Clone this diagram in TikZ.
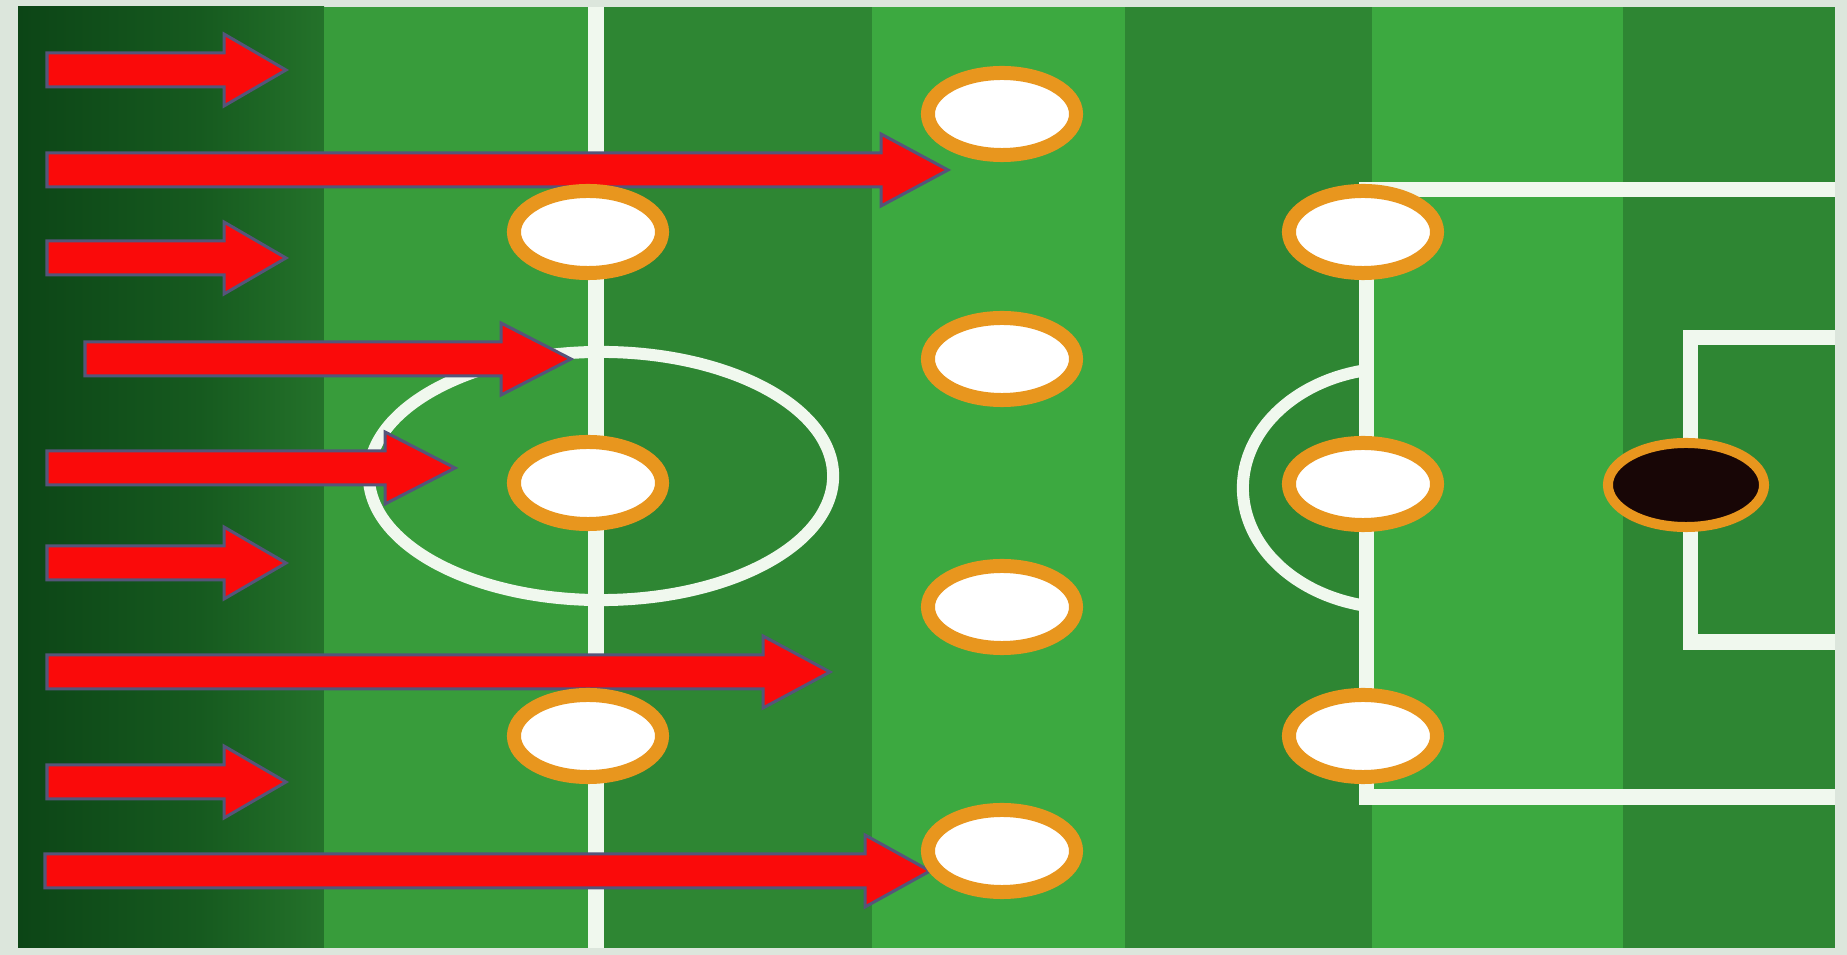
\documentclass[tikz,border=0pt]{standalone}
\usetikzlibrary{shapes.geometric}
\definecolor{frame}{HTML}{DCE6DC}
\definecolor{sonel}{HTML}{0C4516}
\definecolor{sonem}{HTML}{165A1F}
\definecolor{soner}{HTML}{24722A}
\definecolor{stwo}{HTML}{389C3B}
\definecolor{dk}{HTML}{2E8633}
\definecolor{lt}{HTML}{3CA940}
\definecolor{chalk}{HTML}{F0F8EE}
\definecolor{ring}{HTML}{E8961E}
\definecolor{arrred}{HTML}{FA0A0A}
\definecolor{arredge}{HTML}{55557A}
\definecolor{ballc}{HTML}{180606}
\tikzset{
  pitchline/.style={draw=chalk, line width=0.15cm, line join=miter},
  player/.style={ellipse, draw=ring, fill=white, line width=0.14cm, minimum width=1.48cm, minimum height=0.82cm, inner sep=0pt},
  ballnode/.style={ellipse, draw=ring, fill=ballc, line width=0.1cm, minimum width=1.56cm, minimum height=0.84cm, inner sep=0pt},
  redarrow/.style={fill=arrred, draw=arredge, line width=0.03cm, line join=miter}
}
\newcommand{\blockarrow}[4]{%
  \draw[redarrow] (#1,{#3-17}) -- ({#2-#4},{#3-17}) -- ({#2-#4},{#3-36}) -- (#2,#3) -- ({#2-#4},{#3+36}) -- ({#2-#4},{#3+17}) -- (#1,{#3+17}) -- cycle;}
\begin{document}
\begin{tikzpicture}[x=0.01cm,y=-0.01cm]
\useasboundingbox (0,0) rectangle (1847,955);
\fill[frame] (0,0) rectangle (1847,955);
% stripes
\shade[left color=sonel, right color=sonem] (18,7) rectangle (200,948);
\shade[left color=sonem, right color=soner] (199,7) rectangle (324,948);
\fill[stwo] (324,7) rectangle (596,948);
\fill[dk] (596,7) rectangle (872,948);
\fill[lt] (872,7) rectangle (1125,948);
\fill[dk] (1125,7) rectangle (1372,948);
\fill[lt] (1372,7) rectangle (1623,948);
\fill[dk] (1623,7) rectangle (1835,948);
% markings
\draw[pitchline] (596,7) -- (596,948);
\draw[pitchline, line width=0.12cm] (601,476) ellipse [x radius=2.32cm, y radius=1.24cm];
\draw[pitchline, line width=0.12cm] (1395,488) ++(103:1.52cm and 1.2cm) arc[start angle=103, end angle=257, x radius=1.52cm, y radius=1.2cm];
\draw[pitchline] (1835,190) -- (1366,190) -- (1366,797) -- (1835,797);
\draw[pitchline] (1835,338) -- (1690,338) -- (1690,642) -- (1835,642);
% arrows
\blockarrow{47}{286}{70}{62}
\blockarrow{47}{948}{170}{67}
\blockarrow{47}{286}{258}{62}
\blockarrow{85}{571}{359}{70}
\blockarrow{47}{455}{468}{70}
\blockarrow{47}{286}{563}{62}
\blockarrow{47}{830}{672}{67}
\blockarrow{47}{286}{782}{62}
\blockarrow{45}{930}{871}{65}
% players
\node[player] (a1) at (588,232) {};
\node[player] (a2) at (588,483) {};
\node[player] (a3) at (588,736) {};
\node[player] (b1) at (1002,114) {};
\node[player] (b2) at (1002,359) {};
\node[player] (b3) at (1002,607) {};
\node[player] (b4) at (1002,851) {};
\node[player] (c1) at (1363,232) {};
\node[player] (c2) at (1363,484) {};
\node[player] (c3) at (1363,736) {};
\node[ballnode] (ball) at (1686,485) {};
\end{tikzpicture}
\end{document}
